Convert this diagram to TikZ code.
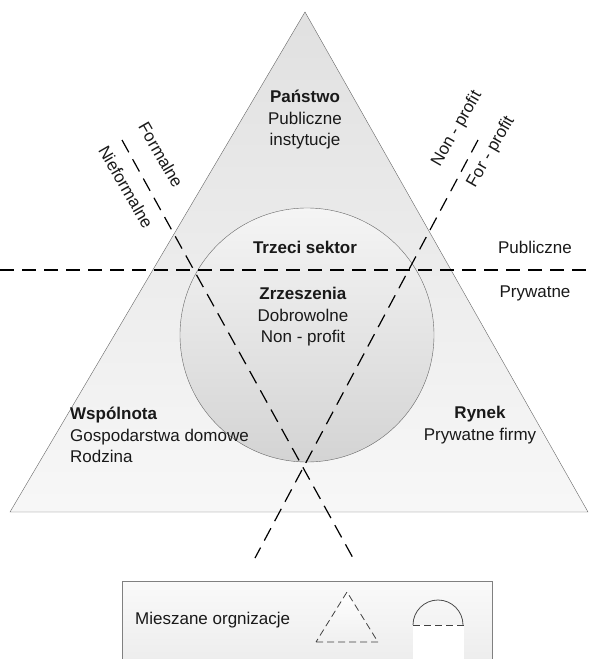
\documentclass[tikz,border=0pt]{standalone}
\usepackage{fontspec}
\setmainfont{Liberation Sans}
\usetikzlibrary{positioning}
\tikzset{
  lbl/.style={font=\fontsize{17}{21.5}\selectfont, text=black!90, align=center, inner sep=0pt},
  splitline/.style={black, line width=1.2pt, dash pattern=on 14pt off 8pt},
  smalldash/.style={black!75, line width=0.8pt, dash pattern=on 7pt off 4pt},
}
\begin{document}
\begin{tikzpicture}[x=1pt,y=-1pt]
\useasboundingbox (0,0) rectangle (589,659);
\clip (0,0) rectangle (589,659);
\draw[black!60, top color=black!12, bottom color=black!3] (10,512) -- (588,512) -- (305,12) -- cycle;
\draw[black!60, top color=black!4, bottom color=black!17] (307,335) circle[radius=127pt];

\coordinate (f1) at (122,140);
\coordinate (f2) at (353,558);
\coordinate (p1) at (478,140);
\coordinate (p2) at (255,558);
\coordinate (h1) at (0,270);
\coordinate (h2) at (589,270);
\draw[splitline] (h1) -- (h2);
\draw[splitline] (f1) -- (f2);
\draw[splitline] (p1) -- (p2);

\node[lbl] (panstwo) at (305,120) {\textbf{Państwo}\\Publiczne\\instytucje};
\node[lbl] (trzeci) at (305,247) {\textbf{Trzeci sektor}};
\node[lbl] (zrzesz) at (303,317) {\textbf{Zrzeszenia}\\Dobrowolne\\Non - profit};
\node[lbl, align=left, anchor=west] (wspol) at (70,435) {\textbf{Wspólnota}\\Gospodarstwa domowe\\Rodzina};
\node[lbl] (rynek) at (480,425) {\textbf{Rynek}\\Prywatne firmy};
\node[lbl] (publ) at (535,247) {Publiczne};
\node[lbl] (pryw) at (535,293) {Prywatne};

\node[lbl, rotate=-60] (form) at (161,155) {Formalne};
\node[lbl, rotate=-60] (nieform) at (126,187) {Nieformalne};
\node[lbl, rotate=60] (nonp) at (457,129) {Non - profit};
\node[lbl, rotate=60] (forp) at (491,152) {For - profit};

\draw[black!50, top color=black!2, bottom color=black!8] (122,581) rectangle (492,675);
\node[lbl, anchor=west] (miesz) at (135,620) {Mieszane orgnizacje};
\draw[smalldash, top color=white, bottom color=black!6] (316,642) -- (378,642) -- (347,592) -- cycle;
\fill[white] (413,625) rectangle (464,665);
\draw[black!70, line width=0.8pt] (413,625) arc[start angle=180, end angle=360, radius=25];
\draw[smalldash] (413,625) -- (464,625);
\end{tikzpicture}
\end{document}
